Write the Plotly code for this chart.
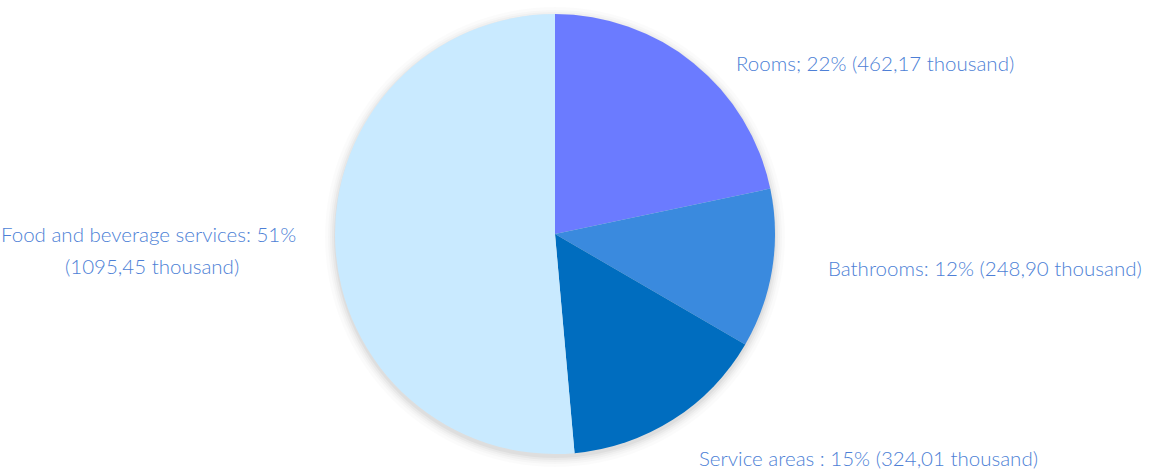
import math
import plotly.graph_objects as go

categories = ["Rooms", "Bathrooms", "Service areas", "Food and beverage services"]
values = [462.17, 248.90, 324.01, 1095.45]
label_lines = [
    ["Rooms; 22% (462,17 thousand)"],
    ["Bathrooms: 12% (248,90 thousand)"],
    ["Service areas : 15% (324,01 thousand)"],
    ["Food and beverage services: 51%", "(1095,45 thousand)"],
]
colors = ["#6b7bff", "#3a8ade", "#006dbf", "#c9eaff"]

W, H = 1154, 470
cx, cy, r = 555, 234, 220

fig = go.Figure()

# soft shadow behind the pie
for grow, op in [(10, 0.015), (7, 0.02), (5, 0.025), (3, 0.03), (1, 0.04)]:
    rr = r + grow
    fig.add_shape(type="circle", xref="paper", yref="paper", layer="below",
                  x0=(cx - rr) / W, x1=(cx + rr) / W,
                  y0=1 - (cy + 3 + rr) / H, y1=1 - (cy + 3 - rr) / H,
                  fillcolor=f"rgba(0,0,0,{op})", line=dict(width=0))

fig.add_trace(go.Pie(
    labels=categories, values=values, sort=False, direction="clockwise",
    rotation=0, marker=dict(colors=colors, line=dict(width=0)),
    textinfo="none", hoverinfo="label+value+percent", showlegend=False,
    domain=dict(x=[(cx - r) / W, (cx + r) / W], y=[1 - (cy + r) / H, 1 - (cy - r) / H]),
))

# labels placed beside each slice's mid-angle
total = sum(values)
nudges = [(40, 0), (54, -1), (24, 38), (-37, -10)]
line_gap = 32
font = dict(family="Lato", size=20.5, color="#4d7fd6", weight=300)
cum = 0
for v, lines, (dx, dy) in zip(values, label_lines, nudges):
    mid = (cum + v / 2) / total * 2 * math.pi
    cum += v
    ex = cx + r * math.sin(mid)
    ey = cy - r * math.cos(mid)
    right = math.sin(mid) >= 0
    x0 = ex + dx
    y0 = ey + dy
    fig.add_annotation(
        x=x0 / W, y=1 - y0 / H, xref="paper", yref="paper",
        text=lines[0], showarrow=False, xanchor="left" if right else "right",
        yanchor="middle", font=font,
    )
    for k, extra in enumerate(lines[1:], start=1):
        # continuation lines are centred under the first line
        xc = x0 - 146 if not right else x0 + 146
        fig.add_annotation(
            x=xc / W, y=1 - (y0 + k * line_gap) / H, xref="paper", yref="paper",
            text=extra, showarrow=False, xanchor="center", yanchor="middle", font=font,
        )

fig.update_layout(
    width=W, height=H, margin=dict(l=0, r=0, t=0, b=0),
    paper_bgcolor="white", plot_bgcolor="white",
)
fig.write_html("out.html")
